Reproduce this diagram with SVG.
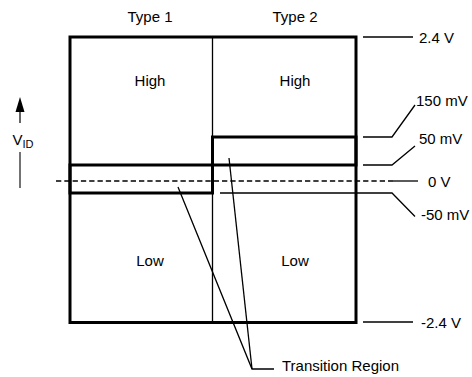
<svg xmlns="http://www.w3.org/2000/svg" width="472" height="377" viewBox="0 0 472 377">
<style>
text{font-family:"Liberation Sans",Arial,sans-serif;font-size:15px;fill:#000}
.thick{fill:none;stroke:#000;stroke-width:3}
.thin{fill:none;stroke:#000;stroke-width:1.3}
</style>
<rect width="472" height="377" fill="#fff"/>
<g id="headers">
<text x="150" y="22" text-anchor="middle">Type 1</text>
<text x="295" y="22" text-anchor="middle">Type 2</text>
</g>
<g id="chart">
<rect class="thick" x="70" y="37" width="286" height="285.5"/>
<line class="thin" x1="212.5" y1="37" x2="212.5" y2="322.5"/>
<rect class="thick" x="70" y="165" width="142.5" height="28"/>
<rect class="thick" x="212.5" y="137" width="143.5" height="28"/>
</g>
<g id="regions">
<text x="150" y="86" text-anchor="middle">High</text>
<text x="295" y="86" text-anchor="middle">High</text>
<text x="150" y="265.5" text-anchor="middle">Low</text>
<text x="295" y="265.5" text-anchor="middle">Low</text>
</g>
<g id="vid">
<line x1="20" y1="123" x2="20" y2="110" stroke="#333" stroke-width="1.5"/>
<path d="M15.5,112 L20,97 L24.5,112 Z" fill="#000"/>
<text x="12.5" y="145">V<tspan font-size="11" dy="3">ID</tspan></text>
<line x1="20" y1="152" x2="20" y2="188" stroke="#444" stroke-width="1.5"/>
</g>
<g id="connectors">
<line x1="56" y1="181" x2="393" y2="181" stroke="#000" stroke-width="1.5" stroke-dasharray="5.3,3"/>
<line class="thin" x1="393" y1="181" x2="418" y2="181"/>
<line class="thin" x1="363" y1="37" x2="413" y2="37"/>
<polyline class="thin" points="363,137 392,137 415,105"/>
<polyline class="thin" points="363,165 392,165 415,146"/>
<polyline class="thin" points="220,193 392,193 415,216.5"/>
<line class="thin" x1="363" y1="322" x2="413" y2="322"/>
<polyline class="thin" points="178,187 252,369 274,369"/>
<line class="thin" x1="229" y1="158" x2="252" y2="369"/>
</g>
<g id="labels">
<text x="419" y="43">2.4 V</text>
<text x="416" y="106">150 mV</text>
<text x="419" y="143.5">50 mV</text>
<text x="428" y="186.5">0 V</text>
<text x="421" y="220">-50 mV</text>
<text x="421" y="328">-2.4 V</text>
<text x="282" y="371">Transition Region</text>
</g>
</svg>
